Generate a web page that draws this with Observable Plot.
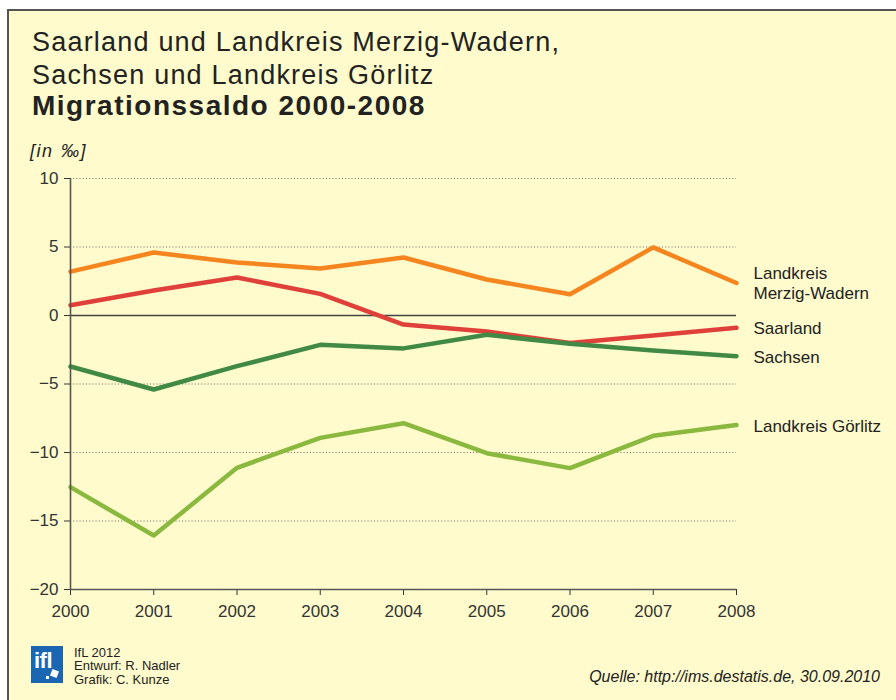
<!DOCTYPE html>
<html>
<head>
<meta charset="utf-8">
<script src="https://cdn.jsdelivr.net/npm/d3@7"></script>
<script src="https://cdn.jsdelivr.net/npm/@observablehq/plot@0.6"></script>
<style>
  body { margin: 0; background: #fff; }
  #wrap { position: relative; width: 896px; height: 700px; overflow: hidden; background: #fff; font-family: "Liberation Sans", Arial, sans-serif; color: #222; }
  #frame { position: absolute; left: 7px; top: 9px; right: 0; bottom: 0; background: #FFFBCC; border-left: 2px solid #555; border-top: 2px solid #555; }
  #chart { position: absolute; left: 0; top: 0; }
  .t { position: absolute; white-space: nowrap; line-height: 1; }
</style>
</head>
<body>
<div id="wrap">
  <div id="frame"></div>
  <div id="chart"></div>
  <div class="t" style="left:32px;top:28.5px;font-size:27px;letter-spacing:1.2px;">Saarland und Landkreis Merzig-Wadern,</div>
  <div class="t" style="left:32px;top:62px;font-size:27px;letter-spacing:1.2px;">Sachsen und Landkreis Görlitz</div>
  <div class="t" style="left:32px;top:92.3px;font-size:28px;font-weight:bold;letter-spacing:1.5px;">Migrationssaldo 2000-2008</div>
  <div class="t" style="left:30px;top:141.8px;font-size:18px;font-style:italic;letter-spacing:1.5px;word-spacing:1px;">[in ‰]</div>
  <div style="position:absolute;left:31px;top:646px;width:32px;height:37px;background:#1A66B3;overflow:hidden;">
    <div class="t" style="left:3px;top:4px;font-size:22px;font-weight:bold;color:#fff;letter-spacing:-0.5px;">ifl</div>
    <div style="position:absolute;left:20px;top:24px;width:7px;height:7px;background:#fff;transform:rotate(20deg);"></div>
    <div style="position:absolute;left:15px;top:30px;width:3px;height:3px;background:#fff;"></div>
  </div>
  <div class="t" style="left:74px;top:645.5px;font-size:13px;line-height:13.5px;">IfL 2012<br>Entwurf: R. Nadler<br>Grafik: C. Kunze</div>
  <div class="t" style="right:16px;top:668.5px;font-size:16px;font-style:italic;">Quelle: http://ims.destatis.de, 30.09.2010</div>
</div>
<script>
const years = [2000, 2001, 2002, 2003, 2004, 2005, 2006, 2007, 2008];
const merzigWadern = [3.2, 4.6, 3.87, 3.43, 4.23, 2.63, 1.55, 4.97, 2.37];
const saarland = [0.75, 1.82, 2.77, 1.58, -0.66, -1.17, -2.0, -1.46, -0.9];
const sachsen = [-3.72, -5.4, -3.7, -2.14, -2.4, -1.41, -2.07, -2.55, -2.97];
const goerlitz = [-12.53, -16.06, -11.12, -8.93, -7.86, -10.05, -11.14, -8.78, -8.0];
const seriesNames = ["Landkreis\nMerzig-Wadern", "Saarland", "Sachsen", "Landkreis Görlitz"];
const seriesColors = ["#F4851F", "#E0403A", "#418A45", "#8BB83E"];
const yTicks = [-20, -15, -10, -5, 0, 5, 10];
const gridTicks = [-15, -10, -5, 5, 10];

const seriesValues = [merzigWadern, saarland, sachsen, goerlitz];
const rows = [];
seriesNames.forEach((name, i) => {
  years.forEach((yr, j) => rows.push({ year: yr, value: seriesValues[i][j], series: name }));
});
const lastRows = seriesNames.map((name, i) => ({ year: years[years.length - 1], value: seriesValues[i][years.length - 1], series: name }));

const chart = Plot.plot({
  width: 896,
  height: 700,
  marginLeft: 70,
  marginRight: 160,
  marginTop: 178,
  marginBottom: 111,
  style: { background: "transparent", fontFamily: "'Liberation Sans', Arial, sans-serif", fontSize: "17px", color: "#333" },
  x: { domain: [2000, 2008] },
  y: { domain: [-20, 10] },
  color: { domain: seriesNames, range: seriesColors },
  marks: [
    Plot.ruleY(gridTicks, { stroke: "#666", strokeDasharray: "1,2.2", strokeWidth: 1 }),
    Plot.ruleY([0], { stroke: "#444", strokeWidth: 1.3 }),
    Plot.axisY({ ticks: yTicks, tickSize: 6, tickPadding: 6, fontSize: 17, label: null, color: "#333" }),
    Plot.axisX({ ticks: years, tickFormat: d => String(d), tickSize: 6, tickPadding: 9, fontSize: 17, label: null, color: "#333" }),
    Plot.line(rows, { x: "year", y: "value", z: "series", stroke: "series", strokeWidth: 4.5 }),
    Plot.ruleY([-20], { stroke: "#555", strokeWidth: 1.6 }),
    Plot.ruleX([2000], { stroke: "#555", strokeWidth: 1.6 }),
    Plot.text(lastRows, { x: "year", y: "value", text: "series", dx: 17, textAnchor: "start", fontSize: 17, lineHeight: 1.18, fill: "#222" })
  ]
});
document.getElementById("chart").appendChild(chart);
</script>
</body>
</html>
